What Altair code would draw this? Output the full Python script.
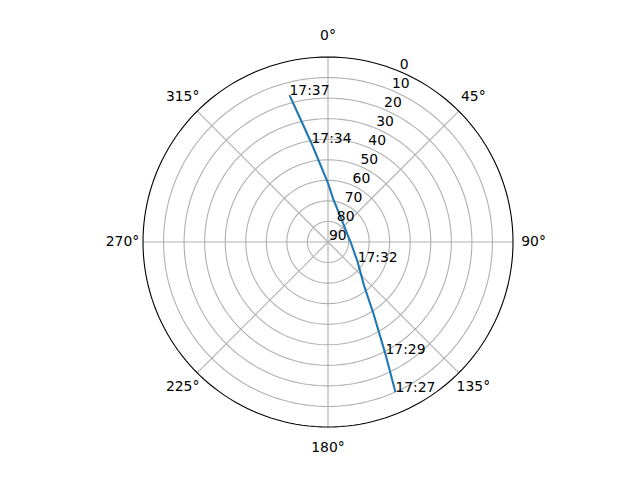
import altair as alt
import numpy as np
import pandas as pd

# Satellite track (azimuth deg clockwise from north, elevation deg)
azimuth = [155.8, 152.9, 147.3, 140.3, 124.0, 90.0, 52.1, 29.4, 6.5, 0.0, 350.5, 347.4, 345.3]
elevation = [10.0, 28.6, 49.5, 62.6, 72.6, 79.0, 79.4, 76.9, 68.6, 61.4, 41.3, 28.8, 16.1]
time_label = ["17:27", "17:29", "", "", "17:32", "", "", "", "", "", "17:34", "", "17:37"]

# Axis ticks
radial_ticks = [0, 10, 20, 30, 40, 50, 60, 70, 80, 90]
grid_rings = [10, 20, 30, 40, 50, 60, 70, 80]
theta_ticks = [0, 45, 90, 135, 180, 225, 270, 315]
theta_labels = ["0°", "45°", "90°", "135°", "180°", "225°", "270°", "315°"]

FONT = "DejaVu Sans"
FS = 13.9
SIZE = 370

track = pd.DataFrame({"az": azimuth, "el": elevation, "t": time_label, "i": range(len(azimuth))})

sweep = np.arange(0, 361, 2)
rings = pd.DataFrame(
    [{"el": e, "az": float(a), "ring": e} for e in grid_rings for a in sweep]
)
outer = pd.DataFrame([{"el": 0, "az": float(a)} for a in sweep])
spokes = pd.DataFrame({"az": theta_ticks})
tlabels = pd.DataFrame({"az": theta_ticks, "label": theta_labels})
rlabels = pd.DataFrame({"el": radial_ticks, "label": [str(v) for v in radial_ticks]})

xs = alt.Scale(domain=[-90, 90], nice=False, zero=False)
ys = alt.Scale(domain=[-90, 90], nice=False, zero=False)

def polar(ch):
    return ch.transform_calculate(
        x="(90 - datum.el) * sin(datum.az * PI / 180)",
        y="(90 - datum.el) * cos(datum.az * PI / 180)",
    )

X = alt.X("x:Q", scale=xs, axis=None)
Y = alt.Y("y:Q", scale=ys, axis=None)

ring_layer = polar(alt.Chart(rings)).mark_line(
    color="#b0b0b0", strokeWidth=1.1, clip=False
).encode(x=X, y=Y, detail="ring:N", order="az:Q")

spoke_layer = alt.Chart(spokes).transform_calculate(
    x0="0", y0="0",
    x1="90 * sin(datum.az * PI / 180)",
    y1="90 * cos(datum.az * PI / 180)",
).mark_rule(color="#b0b0b0", strokeWidth=1.1).encode(
    x=alt.X("x0:Q", scale=xs, axis=None),
    y=alt.Y("y0:Q", scale=ys, axis=None),
    x2="x1:Q",
    y2="y1:Q",
)

outer_layer = polar(alt.Chart(outer)).mark_line(
    color="black", strokeWidth=1.1, clip=False
).encode(x=X, y=Y, order="az:Q")

track_layer = polar(alt.Chart(track)).mark_line(
    color="#1f77b4", strokeWidth=2.08, clip=False
).encode(x=X, y=Y, order="i:Q")

time_layer = polar(alt.Chart(track)).transform_filter("datum.t != ''").mark_text(
    align="left", baseline="alphabetic", font=FONT, fontSize=FS, color="black", dx=0
).encode(x=X, y=Y, text="t:N")

theta_layer = alt.Chart(tlabels).transform_calculate(
    x="100 * sin(datum.az * PI / 180)",
    y="100 * cos(datum.az * PI / 180)",
).mark_text(
    align="center", baseline="middle", font=FONT, fontSize=FS, color="black"
).encode(x=X, y=Y, text="label:N")

rlabel_layer = alt.Chart(rlabels).transform_calculate(
    az="22.5"
).transform_calculate(
    x="(90 - datum.el) * sin(datum.az * PI / 180)",
    y="(90 - datum.el) * cos(datum.az * PI / 180)",
).mark_text(
    align="left", baseline="bottom", font=FONT, fontSize=FS, color="black", dx=1, dy=1
).encode(x=X, y=Y, text="label:N")

chart = alt.layer(
    ring_layer, spoke_layer, track_layer, outer_layer, rlabel_layer, time_layer, theta_layer
).properties(
    width=SIZE,
    height=SIZE,
    autosize=alt.AutoSizeParams(type="none"),
    padding={"left": 135, "top": 49, "right": 100, "bottom": 30},
).configure_view(stroke=None)

chart.save("out.html", embed_options={"renderer": "svg", "actions": False})
